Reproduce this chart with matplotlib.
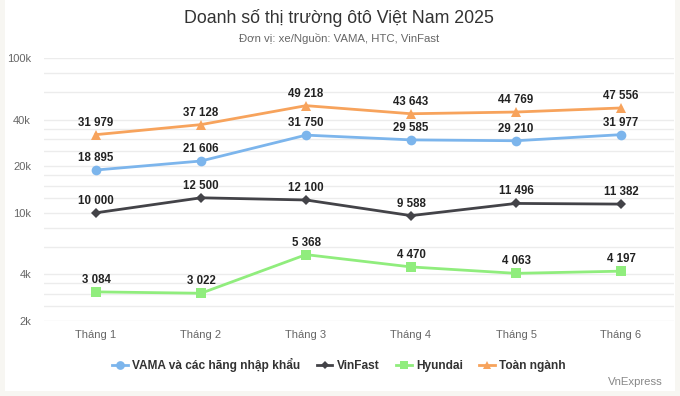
import matplotlib
matplotlib.use("Agg")
import matplotlib.pyplot as plt
from matplotlib.lines import Line2D
from matplotlib.patches import Rectangle
from matplotlib.ticker import FixedLocator, NullLocator

plt.rcParams['font.family'] = ['Liberation Sans', 'DejaVu Sans']

months = ["Tháng 1", "Tháng 2", "Tháng 3", "Tháng 4", "Tháng 5", "Tháng 6"]
vama = [18895, 21606, 31750, 29585, 29210, 31977]
vinfast = [10000, 12500, 12100, 9588, 11496, 11382]
hyundai = [3084, 3022, 5368, 4470, 4063, 4197]
toan_nganh = [31979, 37128, 49218, 43643, 44769, 47556]

series_names = ["VAMA và các hãng nhập khẩu", "VinFast", "Hyundai", "Toàn ngành"]
major_ticks = [2000, 4000, 10000, 20000, 40000, 100000]
major_labels = ["2k", "4k", "10k", "20k", "40k", "100k"]
grid_values = [2000, 2500, 3000, 3500, 4000, 6000, 8000, 10000, 12500, 15000,
               17500, 20000, 25000, 30000, 35000, 40000, 60000, 80000, 100000]

W, H = 680, 396
fig = plt.figure(figsize=(W / 100, H / 100), dpi=100)
fig.patch.set_facecolor('#f7f6f2')
card = Rectangle((5 / W, 1 - 391 / H), 670 / W, 391 / H,
                 transform=fig.transFigure, facecolor='white',
                 edgecolor='none', zorder=-10)
fig.add_artist(card)

left, right, top, bottom = 43.5, 673.5, 58, 321
ax = fig.add_axes([left / W, 1 - bottom / H, (right - left) / W, (bottom - top) / H])
ax.set_zorder(5)
ax.set_facecolor('none')
ax.set_yscale('log')
ax.set_ylim(2000, 100000)
ax.set_xlim(-0.5, len(months) - 0.5)

for v in grid_values:
    ax.axhline(v, color='#ececec', lw=1, zorder=1)

ax.yaxis.set_major_locator(FixedLocator(major_ticks))
ax.yaxis.set_minor_locator(NullLocator())
ax.set_yticklabels(major_labels)
ax.set_xticks(range(len(months)))
ax.set_xticklabels(months)
ax.tick_params(axis='both', length=0, colors='#666666', labelsize=8)
ax.tick_params(axis='y', pad=9)
ax.tick_params(axis='x', pad=6.5)
for s in ax.spines.values():
    s.set_visible(False)

colors = ['#7cb5ec', '#434348', '#90ed7d', '#f7a35c']
markers = ['o', 'D', 's', '^']
msizes = [7, 5, 7, 7]
data = [vama, vinfast, hyundai, toan_nganh]
x = list(range(len(months)))

for vals, c, m, ms in zip(data, colors, markers, msizes):
    ax.plot(x, vals, color=c, lw=2, marker=m, markersize=ms,
            markeredgewidth=0, zorder=3, clip_on=False)
    for xi, v in zip(x, vals):
        ax.annotate(f"{v:,}".replace(",", " "), (xi, v), xytext=(0, 6),
                    textcoords='offset pixels', ha='center', va='bottom',
                    fontsize=8.3, fontweight='bold', color='#222222', zorder=4)

fig.text(339 / W, 1 - 18 / H, "Doanh số thị trường ôtô Việt Nam 2025",
         ha='center', va='center', fontsize=12.8, color='#333333')
fig.text(339 / W, 1 - 39 / H, "Đơn vị: xe/Nguồn: VAMA, HTC, VinFast",
         ha='center', va='center', fontsize=8.2, color='#666666')

handles = [Line2D([0], [0], color=c, lw=2, marker=m, markersize=ms * 0.9,
                  markeredgewidth=0) for c, m, ms in zip(colors, markers, msizes)]
leg = fig.legend(handles, series_names, loc='center',
                 bbox_to_anchor=(339 / W, 1 - 365 / H), ncol=4, frameon=False,
                 handlelength=1.3, handletextpad=0.35, columnspacing=1.4,
                 prop={'weight': 'bold', 'size': 8.6})
for t in leg.get_texts():
    t.set_color('#333333')

fig.text(663 / W, 1 - 382 / H, "VnExpress", ha='right', va='center',
         fontsize=8.2, color='#888888')

fig.savefig("out.png", dpi=100, facecolor=fig.get_facecolor())
